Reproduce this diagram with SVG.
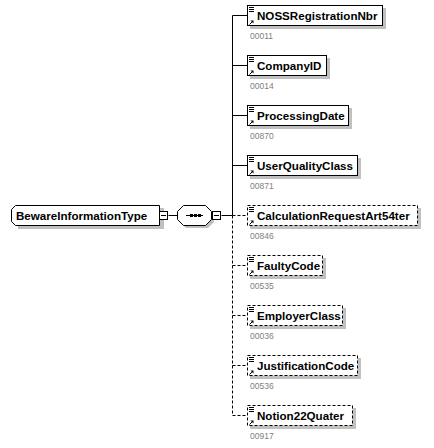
<svg xmlns="http://www.w3.org/2000/svg" width="434" height="448" viewBox="0 0 434 448">
<style>
.bx{fill:#fff;stroke:#000;stroke-width:1}
.opt{stroke-dasharray:3,2}
.sh{fill:#c0c0c0}
.t{font-family:"Liberation Sans",Arial,sans-serif;font-weight:bold;font-size:11.6px;fill:#000}
.n{font-family:"Liberation Sans",Arial,sans-serif;font-size:8.5px;fill:#808080}
.ln{stroke:#000;stroke-width:1;fill:none}
.dl{stroke:#000;stroke-width:1;fill:none;stroke-dasharray:3,2}
</style>
<defs>
<g id="ic">
<path d="M2,2.5h5M2,4.5h5M2,6.5h5" class="ln"/>
<path d="M2.5,19.5L6,16" class="ln"/>
<path d="M3.5,15.5h3v3z" fill="#000"/>
</g>
</defs>
<g id="connectors">
<path class="ln" d="M168.5,215.5H177.5M221.5,215.5H232.5M232.5,15.5V215.5"/>
<path class="dl" d="M232.5,215.5V415.5"/>
<path class="ln" d="M232.5,15.5H247.5M232.5,65.5H247.5M232.5,115.5H247.5M232.5,165.5H247.5"/>
<path class="dl" d="M232.5,215.5H247.5M232.5,265.5H247.5M232.5,315.5H247.5M232.5,365.5H247.5M232.5,415.5H247.5"/>
</g>
<g id="BewareInformationType">
<path class="sh" d="M18,208h146v21h-146z"/>
<path class="bx" d="M15.5,205.5H159.5V225.5H15.5L11.5,221.5V209.5Z"/>
<text class="t" x="16" y="220">BewareInformationType</text>
<rect class="bx" x="159.5" y="211.5" width="8" height="8"/>
<path class="ln" d="M161,215.5h5"/>
</g>
<g id="sequence">
<path class="sh" d="M186,208h22l6,6v8l-6,6h-22l-6,-6v-8z"/>
<path class="bx" d="M183.5,205.5H205.5L211.5,211.5V219.5L205.5,225.5H183.5L177.5,219.5V211.5Z"/>
<path class="ln" d="M186,215.5h17"/>
<rect x="190" y="214" width="3" height="3" fill="#000"/>
<rect x="194" y="214" width="3" height="3" fill="#000"/>
<rect x="198" y="214" width="3" height="3" fill="#000"/>
<rect class="bx" x="212.5" y="211.5" width="8" height="8"/>
<path class="ln" d="M214,215.5h5"/>
</g>
<g id="NOSSRegistrationNbr" transform="translate(0,0)">
<rect class="sh" x="250" y="8" width="136" height="21"/>
<rect class="bx" x="247.5" y="5.5" width="135" height="20"/>
<use href="#ic" x="247" y="5"/>
<text class="t" x="257" y="20">NOSSRegistrationNbr</text>
<text class="n" x="250" y="39">00011</text>
</g>
<g id="CompanyID" transform="translate(0,50)">
<rect class="sh" x="250" y="8" width="80" height="21"/>
<rect class="bx" x="247.5" y="5.5" width="79" height="20"/>
<use href="#ic" x="247" y="5"/>
<text class="t" x="257" y="20">CompanyID</text>
<text class="n" x="250" y="39">00014</text>
</g>
<g id="ProcessingDate" transform="translate(0,100)">
<rect class="sh" x="250" y="8" width="102" height="21"/>
<rect class="bx" x="247.5" y="5.5" width="101" height="20"/>
<use href="#ic" x="247" y="5"/>
<text class="t" x="257" y="20">ProcessingDate</text>
<text class="n" x="250" y="39">00870</text>
</g>
<g id="UserQualityClass" transform="translate(0,150)">
<rect class="sh" x="250" y="8" width="111" height="21"/>
<rect class="bx" x="247.5" y="5.5" width="110" height="20"/>
<use href="#ic" x="247" y="5"/>
<text class="t" x="257" y="20">UserQualityClass</text>
<text class="n" x="250" y="39">00871</text>
</g>
<g id="CalculationRequestArt54ter" transform="translate(0,200)">
<rect class="sh" x="250" y="8" width="171" height="21"/>
<rect class="bx opt" x="247.5" y="5.5" width="170" height="20"/>
<use href="#ic" x="247" y="5"/>
<text class="t" x="257" y="20">CalculationRequestArt54ter</text>
<text class="n" x="250" y="39">00846</text>
</g>
<g id="FaultyCode" transform="translate(0,250)">
<rect class="sh" x="250" y="8" width="76" height="21"/>
<rect class="bx opt" x="247.5" y="5.5" width="75" height="20"/>
<use href="#ic" x="247" y="5"/>
<text class="t" x="257" y="20">FaultyCode</text>
<text class="n" x="250" y="39">00535</text>
</g>
<g id="EmployerClass" transform="translate(0,300)">
<rect class="sh" x="250" y="8" width="96" height="21"/>
<rect class="bx opt" x="247.5" y="5.5" width="95" height="20"/>
<use href="#ic" x="247" y="5"/>
<text class="t" x="257" y="20">EmployerClass</text>
<text class="n" x="250" y="39">00036</text>
</g>
<g id="JustificationCode" transform="translate(0,350)">
<rect class="sh" x="250" y="8" width="111" height="21"/>
<rect class="bx opt" x="247.5" y="5.5" width="110" height="20"/>
<use href="#ic" x="247" y="5"/>
<text class="t" x="257" y="20">JustificationCode</text>
<text class="n" x="250" y="39">00536</text>
</g>
<g id="Notion22Quater" transform="translate(0,400)">
<rect class="sh" x="250" y="8" width="106" height="21"/>
<rect class="bx opt" x="247.5" y="5.5" width="105" height="20"/>
<use href="#ic" x="247" y="5"/>
<text class="t" x="257" y="20">Notion22Quater</text>
<text class="n" x="250" y="39">00917</text>
</g>
</svg>
